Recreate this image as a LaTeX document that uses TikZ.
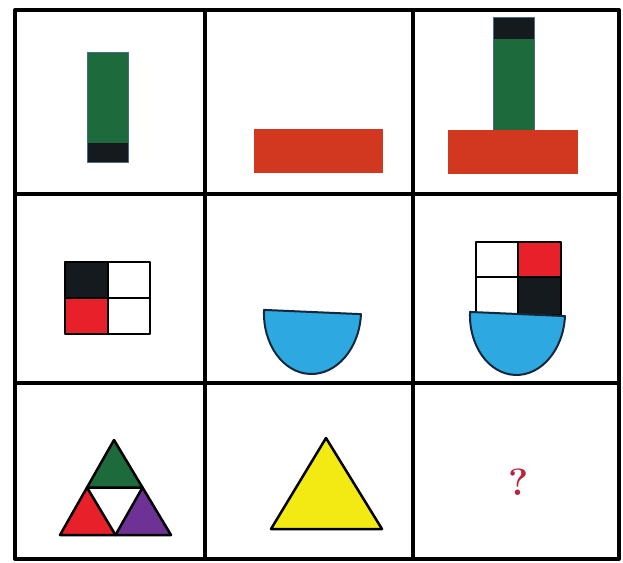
\documentclass[tikz,border=0pt]{standalone}
\usepackage{xcolor}
\usepackage{tikz}
\usetikzlibrary{calc}
\definecolor{puzgreen}{HTML}{1D6A3D}
\definecolor{puzink}{HTML}{151A1F}
\definecolor{puzbrick}{HTML}{D2381F}
\definecolor{puzred}{HTML}{E8202A}
\definecolor{puzblue}{HTML}{2DA8E0}
\definecolor{puzpurple}{HTML}{6E3296}
\definecolor{puzyellow}{HTML}{F3EA14}
\definecolor{puzcrimson}{HTML}{B8233F}
\definecolor{puzedge}{HTML}{4A6A88}
\definecolor{puznavy}{HTML}{13283A}

\begin{document}
\begin{tikzpicture}[x=1pt,y=-1pt,line join=round]
  \useasboundingbox (0,0) rectangle (623,562);
  \fill[white] (0,0) rectangle (623,562);

  % row 1
  \fill[puzgreen] (87,52) rectangle (128,162);
  \fill[puzink] (87,143) rectangle (128,162);
  \draw[puzedge,line width=.8pt] (87,52) rectangle (128,162);
  \fill[puzbrick] (254,129) rectangle (383,173);
  \fill[puzgreen] (493,17) rectangle (534,132);
  \fill[puzink] (493,17) rectangle (534,39);
  \draw[puzedge,line width=.8pt] (493,17) rectangle (534,132);
  \fill[puzbrick] (448,130) rectangle (578,174);

  % row 2
  \fill[puzink] (65,262) rectangle (108,298);
  \fill[puzred] (65,298) rectangle (108,334);
  \draw[line width=2.5pt] (65,262) rectangle (150,334)
    (108,262) -- (108,334) (65,298) -- (150,298);
  \draw[puznavy,fill=puzblue,line width=2pt,rotate around={-2.5:(312,312)}]
    (264,312) arc[start angle=180,end angle=0,x radius=48.5,y radius=62] -- cycle;
  \fill[puzred] (518,242) rectangle (561,277);
  \fill[puzink] (518,277) rectangle (561,315);
  \draw[line width=2.5pt] (476,242) rectangle (561,315)
    (518,242) -- (518,315) (476,277) -- (561,277);
  \draw[puznavy,fill=puzblue,line width=2pt,rotate around={-2.5:(517.5,314)}]
    (470,314) arc[start angle=180,end angle=0,x radius=47.5,y radius=61] -- cycle;

  % row 3
  \coordinate (tA) at (114,440);
  \coordinate (tB) at (60,535);
  \coordinate (tC) at (171,535);
  \coordinate (tAB) at ($(tA)!.5!(tB)$);
  \coordinate (tAC) at ($(tA)!.5!(tC)$);
  \coordinate (tBC) at ($(tB)!.5!(tC)$);
  \draw[fill=puzgreen,line width=2.5pt] (tA) -- (tAB) -- (tAC) -- cycle;
  \draw[fill=puzred,line width=2.5pt] (tB) -- (tAB) -- (tBC) -- cycle;
  \draw[fill=puzpurple,line width=2.5pt] (tC) -- (tAC) -- (tBC) -- cycle;
  \draw[fill=puzyellow,line width=2.5pt] (326,438) -- (271,529) -- (382,529) -- cycle;
  \node[puzcrimson,font=\fontsize{38}{38}\selectfont\bfseries] (ask) at (519,482) {?};

  % grid
  \draw[line width=4pt] (15,10) rectangle (619,559);
  \foreach \gx in {205,413}
    \draw[line width=4pt] (\gx,10) -- (\gx,559);
  \foreach \gy in {194,383}
    \draw[line width=4pt] (15,\gy) -- (619,\gy);
\end{tikzpicture}
\end{document}
